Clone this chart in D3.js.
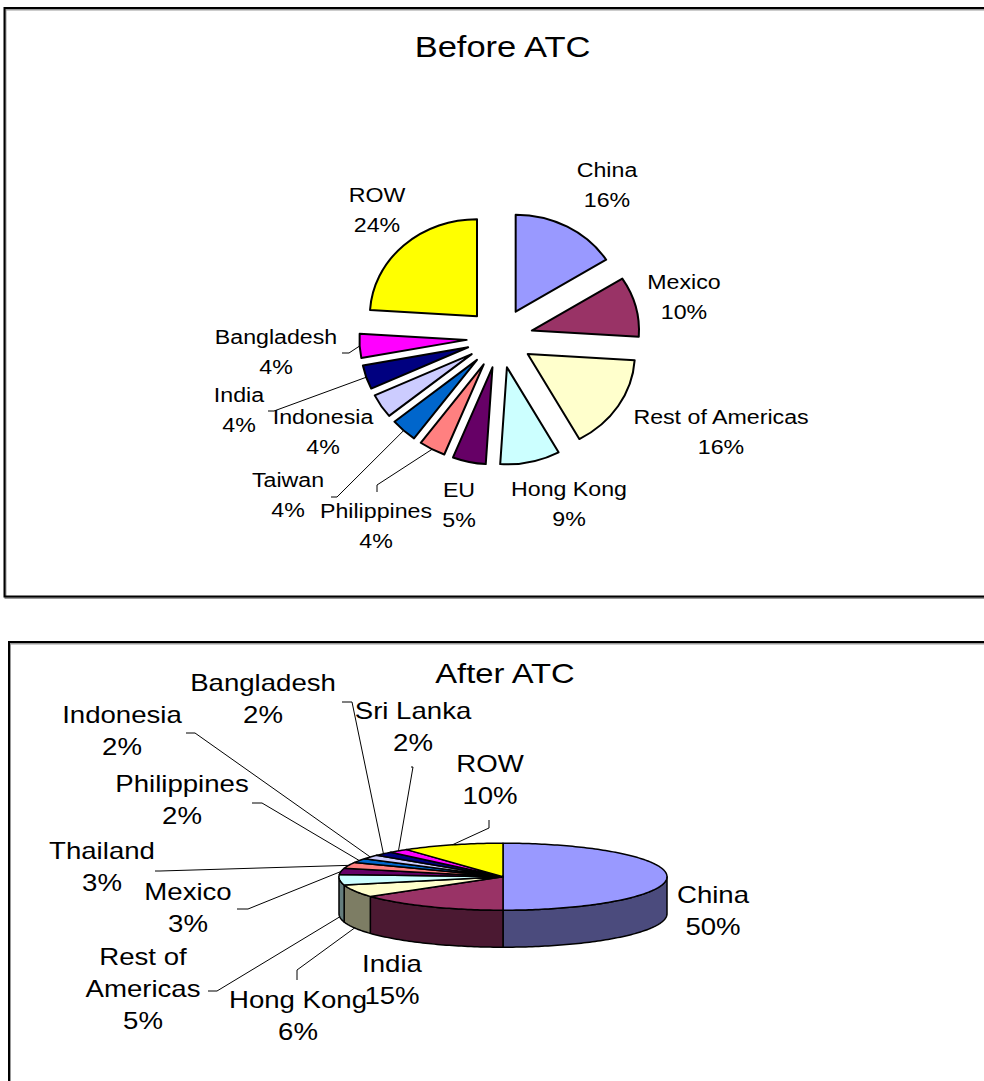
<!DOCTYPE html>
<html>
<head>
<meta charset="utf-8">
<script src="https://cdn.jsdelivr.net/npm/d3@7"></script>
<style>
  body { margin: 0; background: #fff; }
  svg { display: block; font-family: "Liberation Sans", Arial, sans-serif; }
</style>
</head>
<body>
<svg id="chart" width="984" height="1081"></svg>
<script>
// share of clothing imports, before and after ATC (percent)
var beforeNames = ["China", "Mexico", "Rest of Americas", "Hong Kong", "EU", "Philippines",
    "Taiwan", "Indonesia", "India", "Bangladesh", "ROW"];
var beforeValues = [16, 10, 16, 9, 5, 4, 4, 4, 4, 4, 24];

var afterNames = ["China", "India", "Hong Kong", "Rest of Americas", "Mexico", "Thailand",
    "Philippines", "Indonesia", "Bangladesh", "Sri Lanka", "ROW"];
var afterValues = [50, 15, 6, 5, 3, 3, 2, 2, 2, 2, 10];

// excel default pie fills, in series order
var palette = ["#9999FF", "#993366", "#FFFFCC", "#CCFFFF", "#660066", "#FF8080",
    "#0066CC", "#CCCCFF", "#000080", "#FF00FF", "#FFFF00"];

// label placement (screen px, baseline of first line) + leader stubs
var beforeLayout = {
    "China": { x: 607, y: 177 },
    "Mexico": { x: 684, y: 289 },
    "Rest of Americas": { x: 721, y: 424 },
    "Hong Kong": { x: 569, y: 496 },
    "EU": { x: 459, y: 497 },
    "Philippines": { x: 376, y: 518, leader: [[377, 492], [377, 485]] },
    "Taiwan": { x: 288, y: 487, leader: [[331, 497], [337, 497]] },
    "Indonesia": { x: 323, y: 424 },
    "India": { x: 239, y: 402, leader: [[268, 411], [274, 411]] },
    "Bangladesh": { x: 276, y: 344, leader: [[342, 353], [349, 353]] },
    "ROW": { x: 377, y: 202 }
};
var afterLayout = {
    "China": { x: 713, y: 903 },
    "India": { x: 392, y: 972 },
    "Hong Kong": { x: 298, y: 1008, leader: [[297, 980], [297, 970]] },
    "Rest of Americas": { x: 143, y: 965, lines: ["Rest of", "Americas"], leader: [[208, 991], [217, 991]] },
    "Mexico": { x: 188, y: 900, leader: [[237, 909], [248, 909]] },
    "Thailand": { x: 102, y: 859, leader: [[155, 871], [160, 871]] },
    "Philippines": { x: 182, y: 792, leader: [[252, 803], [262, 803]] },
    "Indonesia": { x: 122, y: 723, leader: [[186, 733], [195, 733]] },
    "Bangladesh": { x: 263, y: 691, leader: [[342, 702], [352, 702]] },
    "Sri Lanka": { x: 413, y: 719, leader: [[411, 767], [413, 767]] },
    "ROW": { x: 490, y: 772, leader: [[489, 820], [489, 828]] }
};

var svg = d3.select("#chart");
var pie = d3.pie().sort(null).value(function (d) { return d; });
var lineGen = d3.line();

// frames (right edge runs off the page)
function frame(x, y, h) {
    svg.append("rect").attr("x", x + 1).attr("y", y + 1.5).attr("width", 1000).attr("height", h)
        .attr("fill", "none").attr("stroke", "#999").attr("stroke-width", 2);
    svg.append("rect").attr("x", x).attr("y", y).attr("width", 1000).attr("height", h)
        .attr("fill", "none").attr("stroke", "#000").attr("stroke-width", 2);
}
frame(4.5, 8, 588.5);
frame(9, 642, 500);

function stretchedText(x, y, txt, size, sx) {
    svg.append("text")
        .attr("transform", "translate(" + x + "," + y + ") scale(" + sx + ",1)")
        .attr("text-anchor", "middle")
        .attr("font-size", size)
        .attr("fill", "#000")
        .text(txt);
}

function drawLabels(names, values, layout, size, sx, gap, anchorFn) {
    names.forEach(function (name, i) {
        var L = layout[name];
        if (L.leader) {
            var pts = L.leader.concat([anchorFn(i)]);
            svg.append("path").attr("d", lineGen(pts))
                .attr("fill", "none").attr("stroke", "#000").attr("stroke-width", 1);
        }
        var lines = (L.lines || [name]).concat([values[i] + "%"]);
        lines.forEach(function (t, k) {
            stretchedText(L.x, L.y + k * gap, t, size, sx);
        });
    });
}

// ---------- Before ATC: exploded flat pie ----------
var b = { cx: 499.7, cy: 338, r: 97, explode: 30, sx: 1.105 };
var bArcs = pie(beforeValues);
var arc = d3.arc().innerRadius(0).outerRadius(b.r);

stretchedText(502.5, 57, "Before ATC", 29, 1.19);

var bg = svg.append("g")
    .attr("transform", "translate(" + b.cx + "," + b.cy + ") scale(" + b.sx + ",1)");
bg.selectAll("path.slice")
    .data(bArcs)
    .enter()
    .append("path")
    .attr("class", "slice")
    .attr("d", arc)
    .attr("transform", function (d) {
        var m = (d.startAngle + d.endAngle) / 2;
        return "translate(" + (b.explode * Math.sin(m)) + "," + (-b.explode * Math.cos(m)) + ")";
    })
    .attr("fill", function (d, i) { return palette[i]; })
    .attr("stroke", "#000")
    .attr("stroke-width", 2)
    .attr("stroke-linejoin", "round")
    .attr("vector-effect", "non-scaling-stroke");

drawLabels(beforeNames, beforeValues, beforeLayout, 21, b.sx, 30, function (i) {
    var d = bArcs[i], m = (d.startAngle + d.endAngle) / 2, rr = b.r + b.explode;
    return [b.cx + b.sx * rr * Math.sin(m), b.cy - rr * Math.cos(m)];
});

// ---------- After ATC: 3D pie ----------
var a = { cx: 503, cy: 876.7, rx: 164, ry: 33.5, depth: 37 };
var aArcs = pie(afterValues);

function ell(t, dy) {
    return [a.cx + a.rx * Math.sin(t), a.cy - a.ry * Math.cos(t) + (dy || 0)];
}
function sweep(t0, t1, dy) {
    var n = Math.max(2, Math.ceil((t1 - t0) / 0.02)), pts = [];
    for (var k = 0; k <= n; k++) pts.push(ell(t0 + (t1 - t0) * k / n, dy));
    return pts;
}

stretchedText(505, 683, "After ATC", 27.5, 1.19);

var ag = svg.append("g");
// visible side wall: front half of the disc (90deg .. 270deg)
aArcs.forEach(function (d, i) {
    var t0 = Math.max(d.startAngle, Math.PI / 2), t1 = Math.min(d.endAngle, 3 * Math.PI / 2);
    if (t0 >= t1) return;
    var pts = sweep(t0, t1, 0).concat(sweep(t0, t1, a.depth).reverse());
    ag.append("path")
        .attr("d", lineGen(pts) + "Z")
        .attr("fill", d3.color(palette[i]).darker(2.0).toString())
        .attr("stroke", "#000").attr("stroke-width", 1.5).attr("stroke-linejoin", "round");
});
// top faces
aArcs.forEach(function (d, i) {
    var pts = [[a.cx, a.cy]].concat(sweep(d.startAngle, d.endAngle, 0));
    ag.append("path")
        .attr("d", lineGen(pts) + "Z")
        .attr("fill", palette[i])
        .attr("stroke", "#000").attr("stroke-width", 1.5).attr("stroke-linejoin", "round");
});

drawLabels(afterNames, afterValues, afterLayout, 23, 1.2, 32, function (i) {
    var d = aArcs[i], m = (d.startAngle + d.endAngle) / 2;
    var front = m > Math.PI / 2 && m < 3 * Math.PI / 2;
    return ell(m, front ? a.depth : 0);
});
</script>
</body>
</html>
